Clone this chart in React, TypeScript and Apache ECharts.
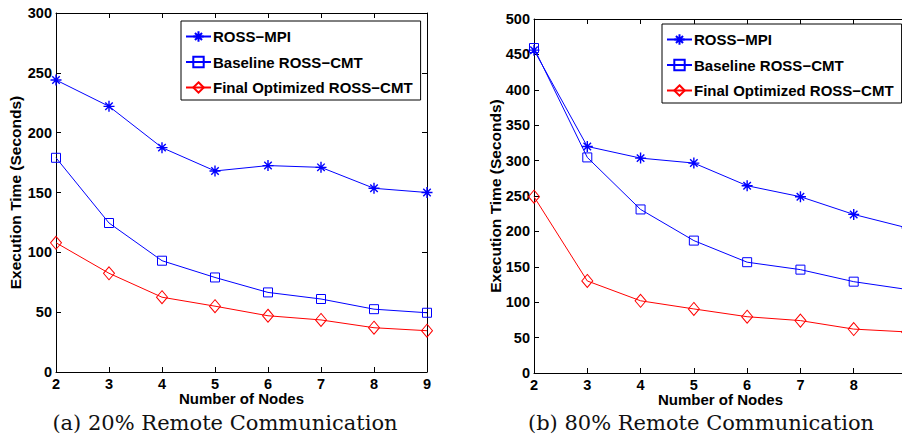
import React, { useEffect, useRef } from "react";
import * as echarts from "echarts";

const nodes = [2, 3, 4, 5, 6, 7, 8, 9];
const seriesNames = ["ROSS−MPI", "Baseline ROSS−CMT", "Final Optimized ROSS−CMT"];

// (a) 20% remote communication
const mpiA = [244, 222, 187.5, 168, 172.5, 171, 153.5, 150];
const baseA = [179, 124.5, 93, 79, 66.5, 61, 52.5, 49.5];
const finalA = [108, 82.5, 62.5, 55, 47, 43.5, 37, 34.5];

// (b) 80% remote communication
const mpiB = [456, 320, 303.5, 296.5, 264.5, 249, 224, 205];
const baseB = [459, 304.5, 231, 187, 156.5, 146, 129, 118];
const finalB = [249, 130, 102, 90.5, 79.5, 74, 62, 58];

const captions = ["(a) 20% Remote Communication", "(b) 80% Remote Communication"];

const BLUE = "#0000ff";
const RED = "#ff0000";
const FONT = "Liberation Sans";
const STAR = "path://M5,0 L5,10 M0,5 L10,5 M1.6,1.6 L8.4,8.4 M1.6,8.4 L8.4,1.6";

export default function App() {
  const ref = useRef<HTMLDivElement>(null);
  useEffect(() => {
    if (!ref.current) return;
    const chart = echarts.init(ref.current, undefined, { renderer: "svg" });
    const grids = [
      { left: 56, top: 13, width: 371, height: 359 },
      { left: 534, top: 19, width: 373, height: 354 },
    ];
    const yMax = [300, 500];
    const tickLabel = { color: "#000", fontWeight: "bold" as const, fontSize: 14.5, fontFamily: FONT, lineHeight: 13 };
    const xNameStyle = { color: "#000", fontWeight: "bold" as const, fontSize: 15, fontFamily: FONT, lineHeight: 15 };
    const yNameStyle = { color: "#000", fontWeight: "bold" as const, fontSize: 15.5, fontFamily: FONT };
    const axisLine = { show: true, onZero: false, lineStyle: { color: "#000", width: 1 } };
    const tick = { show: true, inside: true, length: 5, lineStyle: { color: "#000" } };

    const xAxis: any[] = [];
    const yAxis: any[] = [];
    [0, 1].forEach((g) => {
      xAxis.push({
        type: "value", gridIndex: g, min: 2, max: 9, interval: 1, position: "bottom",
        name: "Number of Nodes", nameLocation: "middle", nameGap: 19, nameMoveOverlap: false,
        nameTextStyle: xNameStyle,
        axisLine, axisTick: tick,
        axisLabel: { ...tickLabel, margin: 5, showMaxLabel: g === 0 },
        splitLine: { show: false },
      });
      xAxis.push({
        type: "value", gridIndex: g, min: 2, max: 9, interval: 1, position: "top",
        axisLine, axisTick: tick, axisLabel: { show: false }, splitLine: { show: false },
      });
      yAxis.push({
        type: "value", gridIndex: g, min: 0, max: yMax[g], interval: 50, position: "left",
        name: "Execution Time (Seconds)", nameLocation: "middle", nameGap: g === 0 ? 33 : 31,
        nameMoveOverlap: false,
        nameTextStyle: yNameStyle,
        axisLine, axisTick: tick, axisLabel: { ...tickLabel, margin: 4 }, splitLine: { show: false },
      });
      yAxis.push({
        type: "value", gridIndex: g, min: 0, max: yMax[g], interval: 50, position: "right",
        axisLine, axisTick: tick, axisLabel: { show: false }, splitLine: { show: false },
      });
    });

    const mk = (name: string, data: number[], g: number, kind: number) => {
      const color = kind === 2 ? RED : BLUE;
      return {
        type: "line",
        name,
        xAxisIndex: g * 2,
        yAxisIndex: g * 2,
        data: nodes.map((n, i) => [n, data[i]]),
        symbol: kind === 0 ? STAR : kind === 1 ? "rect" : "diamond",
        symbolSize: kind === 0 ? 11 : kind === 1 ? 9 : [11, 13],
        showSymbol: true,
        lineStyle: { color, width: 1 },
        itemStyle: {
          color: kind === 0 ? color : "rgba(255,255,255,0)",
          borderColor: color,
          borderWidth: kind === 0 ? 1.4 : 1,
        },
        emphasis: { disabled: true },
      };
    };

    const series = [
      mk(seriesNames[0], mpiA, 0, 0),
      mk(seriesNames[1], baseA, 0, 1),
      mk(seriesNames[2], finalA, 0, 2),
      mk(seriesNames[0], mpiB, 1, 0),
      mk(seriesNames[1], baseB, 1, 1),
      mk(seriesNames[2], finalB, 1, 2),
    ];

    const legendBase = {
      orient: "vertical",
      data: seriesNames,
      itemWidth: 25,
      itemHeight: 13,
      itemGap: 10.5,
      padding: [8, 8, 5, 4],
      borderColor: "#000",
      borderWidth: 1,
      backgroundColor: "#fff",
      textStyle: { color: "#000", fontWeight: "bold", fontSize: 15, fontFamily: FONT, padding: [0, 0, 0, -3] },
      selectedMode: false,
    };

    chart.setOption({
      animation: false,
      backgroundColor: "#fff",
      grid: grids,
      xAxis,
      yAxis,
      legend: [
        { ...legendBase, left: 181, top: 21 },
        { ...legendBase, left: 662, top: 24 },
      ],
      series,
      graphic: captions.map((t, i) => ({
        type: "text",
        x: i === 0 ? 225 : 701,
        y: 423,
        style: {
          text: t,
          fill: "#111",
          font: '21px "DejaVu Serif"',
          textAlign: "center",
          textVerticalAlign: "middle",
        },
      })),
    });
    return () => chart.dispose();
  }, []);
  return (
    <div style={{ position: "fixed", left: 0, top: 0, width: 902, height: 439, overflow: "hidden" }}>
      <div ref={ref} style={{ width: 930, height: 439 }} />
    </div>
  );
}
